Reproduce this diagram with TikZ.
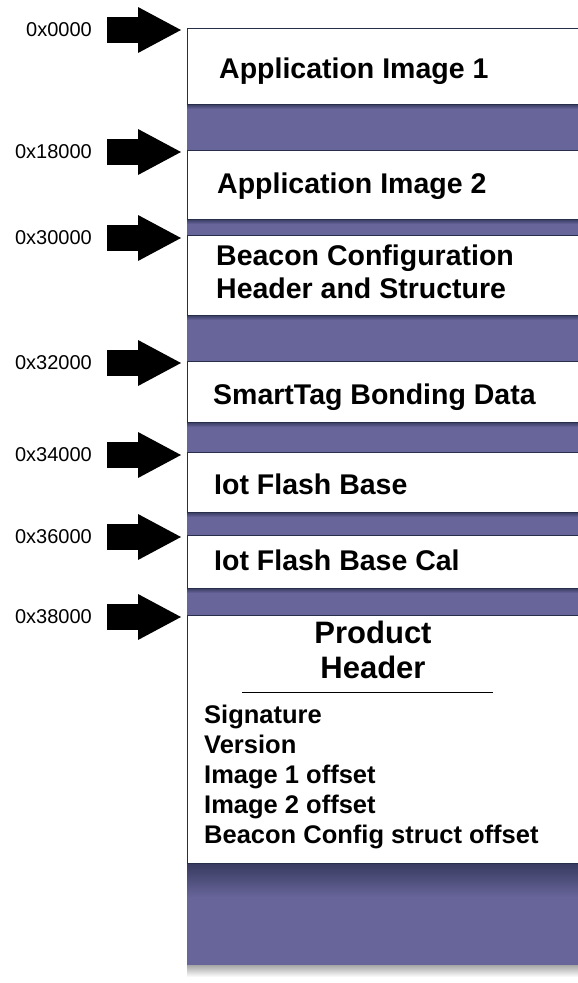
\documentclass[tikz,border=0pt]{standalone}
\usepackage{fontspec}
\setmainfont{Liberation Sans}
\usetikzlibrary{arrows.meta, positioning}

\definecolor{bandpurple}{RGB}{103,101,153}
\definecolor{bandedge}{RGB}{56,58,96}
\definecolor{boxline}{RGB}{38,46,74}

\begin{document}
\begin{tikzpicture}[
    x=1pt, y=-1pt,
    membox/.style={
        draw=boxline,
        fill=white,
        line width=1.4pt,
        anchor=north west,
        minimum width=393pt,
        inner sep=0pt
    },
    boxtext/.style={
        anchor=base west,
        align=left,
        inner sep=0pt,
        font=\fontsize{28.5}{33}\selectfont\bfseries
    },
    titletext/.style={
        anchor=base,
        align=center,
        inner sep=0pt,
        font=\fontsize{31}{35}\selectfont\bfseries
    },
    listtext/.style={
        anchor=base west,
        align=left,
        inner sep=0pt,
        font=\fontsize{25.5}{30}\selectfont\bfseries
    },
    addr/.style={
        anchor=east,
        inner sep=0pt,
        font=\fontsize{20}{24}\selectfont
    },
    blockarrow/.style={
        line width=26pt,
        shorten >=6pt,
        -{Triangle[length=43pt,width=46pt,line width=0pt]}
    }
]

\useasboundingbox (0,0) rectangle (578,983);

% purple filler between the regions
\fill[bandpurple] (187,104) rectangle (580,965);
\shade[top color=bandedge, bottom color=bandpurple] (187,104) rectangle (580,109);
\shade[top color=bandedge, bottom color=bandpurple] (187,219) rectangle (580,224);
\shade[top color=bandedge, bottom color=bandpurple] (187,315) rectangle (580,320);
\shade[top color=bandedge, bottom color=bandpurple] (187,422) rectangle (580,427);
\shade[top color=bandedge, bottom color=bandpurple] (187,512) rectangle (580,517);
\shade[top color=bandedge, bottom color=bandpurple] (187,588) rectangle (580,593);
\shade[top color=bandedge, bottom color=bandpurple] (187,863) rectangle (580,897);
\shade[top color=black!35, bottom color=white] (187,965) rectangle (580,977);

% flash regions
\node[membox, minimum height=76pt] (img1) at (187,28) {};
\node[membox, minimum height=69pt] (img2) at (187,150) {};
\node[membox, minimum height=80pt] (beacon) at (187,235) {};
\node[membox, minimum height=61pt] (bonding) at (187,361) {};
\node[membox, minimum height=60pt] (iotbase) at (187,452) {};
\node[membox, minimum height=53pt] (iotcal) at (187,535) {};
\node[membox, minimum height=248pt] (prodhdr) at (187,615) {};

% base of a multi-line node is its last line
\node[boxtext] (img1txt) at (219,78) {Application Image 1};
\node[boxtext] (img2txt) at (217,193) {Application Image 2};
\node[boxtext] (beacontxt) at (216,298)
{Beacon Configuration\\Header and Structure};
\node[boxtext] (bondingtxt) at (213,404) {SmartTag Bonding Data};
\node[boxtext] (iotbasetxt) at (214,494) {Iot Flash Base};
\node[boxtext] (iotcaltxt) at (214,570) {Iot Flash Base Cal};

\node[titletext] (prodtitle) at (373,678) {Product\\Header};
\draw[line width=1pt] (242,692) -- (493,692);
\node[listtext] (prodfields) at (204,843)
{Signature\\Version\\Image 1 offset\\Image 2 offset\\Beacon Config struct offset};

% start addresses
\node[addr] (addr1) at (92,30) {0x0000};
\node[addr] (addr2) at (92,152) {0x18000};
\node[addr] (addr3) at (92,238) {0x30000};
\node[addr] (addr4) at (92,363) {0x32000};
\node[addr] (addr5) at (92,455) {0x34000};
\node[addr] (addr6) at (92,537) {0x36000};
\node[addr] (addr7) at (92,617) {0x38000};

\draw[blockarrow] ([xshift=15pt]addr1.east) -- (addr1.east -| img1.west);
\draw[blockarrow] ([xshift=15pt]addr2.east) -- (addr2.east -| img2.west);
\draw[blockarrow] ([xshift=15pt]addr3.east) -- (addr3.east -| beacon.west);
\draw[blockarrow] ([xshift=15pt]addr4.east) -- (addr4.east -| bonding.west);
\draw[blockarrow] ([xshift=15pt]addr5.east) -- (addr5.east -| iotbase.west);
\draw[blockarrow] ([xshift=15pt]addr6.east) -- (addr6.east -| iotcal.west);
\draw[blockarrow] ([xshift=15pt]addr7.east) -- (addr7.east -| prodhdr.west);

\end{tikzpicture}
\end{document}
